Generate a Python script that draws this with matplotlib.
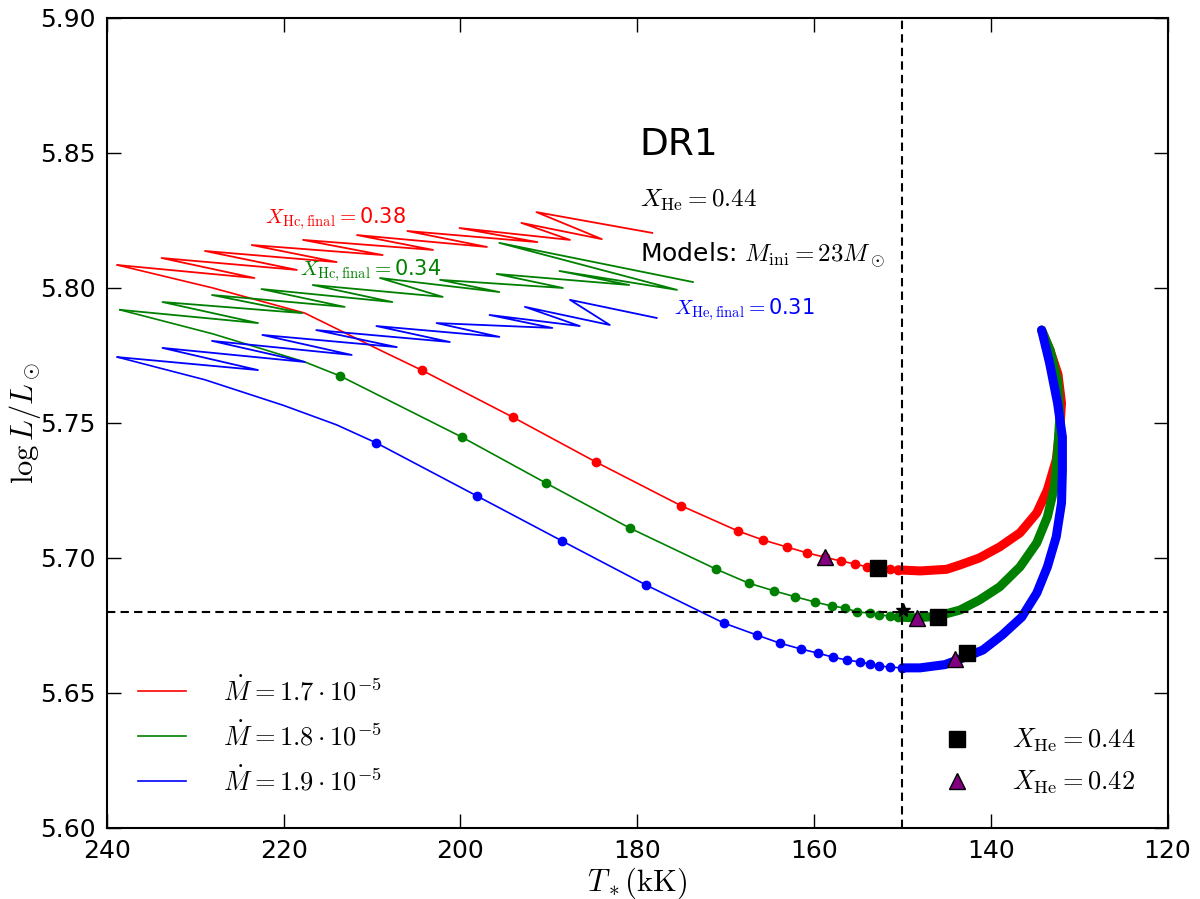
import numpy as np
import matplotlib
matplotlib.use("Agg")
import matplotlib.pyplot as plt
from matplotlib.lines import Line2D

plt.rcParams['mathtext.fontset'] = 'cm'
plt.rcParams['font.family'] = ['DejaVu Sans']

# --- main tracks (thin part with dots) ---
red_x = [238.8, 228.0, 217.6, 209.1, 204.4, 194.1, 184.7, 175.0, 168.6, 165.8, 163.1, 160.8, 158.8, 157.0, 155.4, 154.0, 152.8, 151.4, 150.5]
red_y = [5.8085, 5.8000, 5.7907, 5.7770, 5.7696, 5.7522, 5.7356, 5.7193, 5.7100, 5.7067, 5.7041, 5.7019, 5.7003, 5.6989, 5.6978, 5.6967, 5.6963, 5.6959, 5.6956]
red_dot_x = [204.4, 194.1, 184.7, 175.0, 168.6, 165.8, 163.1, 160.8, 158.8, 157.0, 155.4, 154.0, 152.8, 151.4, 150.5]
red_dot_y = [5.7696, 5.7522, 5.7356, 5.7193, 5.7100, 5.7067, 5.7041, 5.7019, 5.7003, 5.6989, 5.6978, 5.6967, 5.6963, 5.6959, 5.6956]

green_x = [238.5, 228.0, 217.6, 213.6, 199.85, 190.35, 180.85, 171.1, 167.4, 164.5, 162.1, 159.9, 158.0, 156.5, 155.1, 153.7, 152.6, 151.4, 150.5]
green_y = [5.7919, 5.7830, 5.7726, 5.7674, 5.7448, 5.7278, 5.7111, 5.6959, 5.6907, 5.6878, 5.6856, 5.6837, 5.6822, 5.6815, 5.6800, 5.6796, 5.6789, 5.6785, 5.6781]
green_dot_x = [213.6, 199.85, 190.35, 180.85, 171.1, 167.4, 164.5, 162.1, 159.9, 158.0, 156.5, 155.1, 153.7, 152.6, 151.4, 150.5]
green_dot_y = [5.7674, 5.7448, 5.7278, 5.7111, 5.6959, 5.6907, 5.6878, 5.6856, 5.6837, 5.6822, 5.6815, 5.6800, 5.6796, 5.6789, 5.6785, 5.6781]

blue_x = [238.8, 228.9, 220.0, 214.0, 209.5, 198.15, 188.5, 179.0, 170.2, 166.5, 163.9, 161.5, 159.6, 157.9, 156.3, 154.8, 153.7, 152.6, 151.4, 150.0]
blue_y = [5.7744, 5.7660, 5.7565, 5.7493, 5.7426, 5.7230, 5.7063, 5.6900, 5.6759, 5.6715, 5.6685, 5.6663, 5.6648, 5.6633, 5.6622, 5.6615, 5.6607, 5.6600, 5.6596, 5.6593]
blue_dot_x = [209.5, 198.15, 188.5, 179.0, 170.2, 166.5, 163.9, 161.5, 159.6, 157.9, 156.3, 154.8, 153.7, 152.6, 151.4, 150.0]
blue_dot_y = [5.7426, 5.7230, 5.7063, 5.6900, 5.6759, 5.6715, 5.6685, 5.6663, 5.6648, 5.6633, 5.6622, 5.6615, 5.6607, 5.6600, 5.6596, 5.6593]

# --- dense (thick) part of the tracks ---
red_thick_x = [150.5, 148.0, 145.0, 143.5, 141.3, 139.0, 136.7, 134.8, 133.6, 132.6, 132.2, 132.0, 132.4, 133.3, 134.25]
red_thick_y = [5.6956, 5.6952, 5.6958, 5.6974, 5.7000, 5.7041, 5.7093, 5.7167, 5.7252, 5.7363, 5.7474, 5.7574, 5.7680, 5.7770, 5.7844]
green_thick_x = [150.5, 148.3, 146.0, 143.5, 141.3, 139.0, 136.7, 134.8, 133.6, 132.8, 132.45, 132.2, 132.4, 133.3, 134.25]
green_thick_y = [5.6781, 5.6778, 5.6785, 5.6807, 5.6844, 5.6893, 5.6967, 5.7056, 5.7152, 5.7263, 5.7389, 5.7520, 5.7650, 5.7770, 5.7844]
blue_thick_x = [150.0, 148.0, 145.2, 142.7, 140.9, 138.7, 136.5, 134.8, 133.6, 132.6, 132.0, 131.9, 131.9, 132.45, 133.35, 134.25]
blue_thick_y = [5.6593, 5.6593, 5.6605, 5.6635, 5.6659, 5.6715, 5.6781, 5.6870, 5.6967, 5.7078, 5.7204, 5.7326, 5.7448, 5.7574, 5.7722, 5.7844]

# --- zigzags: left and right turning points ---
red_zl_x = [238.8, 233.8, 228.9, 223.6, 217.8, 211.7, 206.0, 200.1, 193.1, 191.4]
red_zl_y = [5.8085, 5.8111, 5.8137, 5.8159, 5.8178, 5.8196, 5.8211, 5.8222, 5.8241, 5.8281]
red_zr_x = [223.3, 218.5, 214.0, 208.8, 203.1, 197.0, 191.3, 187.6, 184.0, 178.3]
red_zr_y = [5.8037, 5.8067, 5.8096, 5.8122, 5.8141, 5.8152, 5.8170, 5.8178, 5.8181, 5.8204]

green_zl_x = [238.5, 233.7, 228.1, 222.5, 216.7, 209.1, 202.3, 195.9, 188.8, 195.6]
green_zl_y = [5.7919, 5.7948, 5.7974, 5.7996, 5.8011, 5.8037, 5.8030, 5.8052, 5.8063, 5.8167]
green_zr_x = [222.9, 217.9, 213.1, 207.7, 202.0, 195.6, 188.4, 180.9, 175.5, 173.7]
green_zr_y = [5.7870, 5.7907, 5.7930, 5.7948, 5.7967, 5.7985, 5.8000, 5.8011, 5.7993, 5.8022]

blue_zl_x = [238.8, 233.7, 228.1, 222.4, 216.3, 209.5, 202.7, 196.7, 192.7, 187.6]
blue_zl_y = [5.7744, 5.7778, 5.7804, 5.7826, 5.7844, 5.7859, 5.7870, 5.7900, 5.7930, 5.7956]
blue_zr_x = [222.9, 217.6, 212.3, 207.2, 201.2, 195.6, 189.6, 186.5, 183.1, 177.8]
blue_zr_y = [5.7696, 5.7726, 5.7752, 5.7781, 5.7800, 5.7819, 5.7852, 5.7859, 5.7863, 5.7889]

# --- special markers ---
sq_x = [152.8, 146.0, 142.7]
sq_y = [5.6963, 5.6781, 5.6648]
tri_x = [158.8, 148.3, 144.0]
tri_y = [5.7003, 5.6778, 5.6626]
star_x = [149.9]
star_y = [5.6807]

legend_labels = [r'$\dot M=1.7\cdot10^{-5}$', r'$\dot M=1.8\cdot10^{-5}$', r'$\dot M=1.9\cdot10^{-5}$']


def zigzag(lx, ly, rx, ry):
    xs, ys = [], []
    for a, b, c, d in zip(lx, ly, rx, ry):
        xs += [a, c]
        ys += [b, d]
    return xs, ys


fig = plt.figure(figsize=(12, 8.99), dpi=100)
ax = fig.add_axes([0.089, 0.079, 0.884, 0.901])

cols = ['r', 'g', 'b']
tracks = [(red_x, red_y, red_dot_x, red_dot_y, red_thick_x, red_thick_y, red_zl_x, red_zl_y, red_zr_x, red_zr_y),
          (green_x, green_y, green_dot_x, green_dot_y, green_thick_x, green_thick_y, green_zl_x, green_zl_y, green_zr_x, green_zr_y),
          (blue_x, blue_y, blue_dot_x, blue_dot_y, blue_thick_x, blue_thick_y, blue_zl_x, blue_zl_y, blue_zr_x, blue_zr_y)]

for c, lab, t in zip(cols, legend_labels, tracks):
    tx, ty, dx, dy, kx, ky, zlx, zly, zrx, zry = t
    zx, zy = zigzag(zlx, zly, zrx, zry)
    ax.plot(zx, zy, color=c, lw=1.3)
    ax.plot(tx, ty, color=c, lw=1.2, label=lab)
    ax.plot(dx, dy, 'o', color=c, mec=c, ms=6)
    ax.plot(kx, ky, color=c, lw=6.5, solid_capstyle='round', solid_joinstyle='round')

ax.axvline(150, color='k', ls=(0, (4, 2.5)), lw=1.5)
ax.axhline(5.68, color='k', ls=(0, (4, 2.5)), lw=1.5)

ax.plot(sq_x, sq_y, 's', color='k', ms=11, zorder=5)
ax.plot(tri_x, tri_y, '^', color='purple', mec='k', ms=11, zorder=5)
ax.plot(star_x, star_y, '*', color='k', ms=10, zorder=5)

ax.text(179.7, 5.8493, 'DR1', fontsize=27)
ax.text(179.7, 5.830, r'$X_{\rm He}=0.44$', fontsize=18)
ax.text(179.7, 5.8096, r'Models: $M_{\rm ini}=23M_\odot$', fontsize=18)
ax.text(222.1, 5.8241, r'$X_{\rm Hc,final}=$0.38', color='r', fontsize=15)
ax.text(218.2, 5.8048, r'$X_{\rm Hc,final}=$0.34', color='g', fontsize=15)
ax.text(175.8, 5.7904, r'$X_{\rm He,final}=$0.31', color='b', fontsize=15)

ax.set_xlim(240, 120)
ax.set_ylim(5.60, 5.90)
ax.set_xticks([240, 220, 200, 180, 160, 140, 120])
ax.set_yticks(np.arange(5.60, 5.901, 0.05))
ax.set_yticklabels(['%.2f' % v for v in np.arange(5.60, 5.901, 0.05)])
ax.tick_params(direction='in', top=True, right=True, length=10, width=1, labelsize=18, pad=8)
for s in ax.spines.values():
    s.set_linewidth(1.5)

ax.set_xlabel(r'$T_*(\rm kK)$', fontsize=22, labelpad=2)
ax.set_ylabel(r'$\log L/L_\odot$', fontsize=22, labelpad=-2)

leg1 = ax.legend(loc='lower left', frameon=False, fontsize=19, handlelength=1.8,
                 handletextpad=1.4, labelspacing=0.6, borderaxespad=0.8)
ax.add_artist(leg1)
h2 = [Line2D([], [], marker='s', color='k', ls='none', ms=11),
      Line2D([], [], marker='^', color='purple', mec='k', ls='none', ms=11)]
ax.legend(h2, [r'$X_{\rm He}=0.44$', r'$X_{\rm He}=0.42$'], loc='lower right', frameon=False,
          fontsize=19, numpoints=1, handletextpad=1.1, labelspacing=0.55, borderaxespad=0.8)

fig.savefig('out.png', dpi=100)
